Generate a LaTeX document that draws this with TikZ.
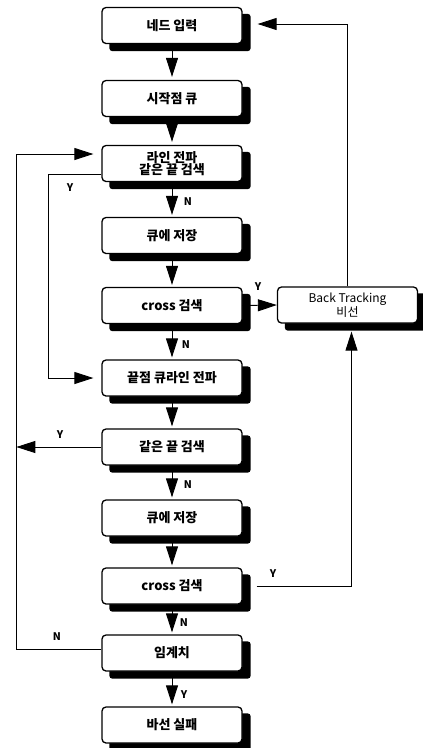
\documentclass[tikz,border=0pt]{standalone}
\usepackage{fontspec}
\setmainfont{Noto Sans CJK KR}
\usetikzlibrary{arrows.meta,backgrounds}
\begin{document}
\begin{tikzpicture}[x=1pt,y=-1pt,
  box/.style={draw,line width=1.3pt,rounded corners=4pt,fill=white,
    minimum width=140pt,minimum height=36pt,align=center,inner sep=1pt,
    font=\fontsize{13}{12.5}\selectfont\bfseries},
  shadowbox/.style={fill=black,rounded corners=3pt},
  conn/.style={line width=0.9pt},
  arr/.style={conn,-{Triangle[width=12pt,length=19pt]}},
  lbl/.style={font=\fontsize{10.5}{11}\selectfont\bfseries,inner sep=0pt}]
\useasboundingbox (0,0) rectangle (423,748);
\node[box] (n1) at (172,25.5) {네드 입력};
\node[box] (n2) at (172,98.5) {시작점 큐};
\node[box] (n3) at (172,163.5) {라인 전파\\같은 끝 검색};
\node[box] (n4) at (172,235.5) {큐에 저장};
\node[box] (n5) at (172,305.5) {cross 검색};
\node[box,font=\fontsize{12}{11}\selectfont] (bt) at (347.5,305) {Back Tracking\\비선};
\node[box] (n6) at (172,378) {끝점 큐라인 전파};
\node[box] (n7) at (172,447) {같은 끝 검색};
\node[box] (n8) at (172,518) {큐에 저장};
\node[box] (n9) at (172,586) {cross 검색};
\node[box] (n10) at (172,653) {임계치};
\node[box] (n11) at (172,725) {바선 실패};
\begin{scope}[on background layer]
\foreach \n in {n1,n2,n3,n4,n5,bt,n6,n7,n8,n9,n10,n11}
  \fill[shadowbox] ([xshift=8pt,yshift=-7pt]\n.north west) rectangle ([xshift=8pt,yshift=-7pt]\n.south east);
\end{scope}
% vertical flow
\draw[arr] (n1.south) -- ([yshift=3pt]n2.north);
\draw[arr] (n2.south) -- ([yshift=3pt]n3.north);
\draw[arr] (n3.south) -- ([yshift=2pt]n4.north);
\draw[arr] (n4.south) -- ([yshift=2pt]n5.north);
\draw[arr] (n5.south) -- ([yshift=2pt]n6.north);
\draw[arr] (n6.south) -- ([yshift=2pt]n7.north);
\draw[arr] (n7.south) -- ([yshift=2pt]n8.north);
\draw[arr] (n8.south) -- ([yshift=2pt]n9.north);
\draw[arr] (n9.south) -- ([yshift=2pt]n10.north);
\draw[arr] (n10.south) -- ([yshift=2pt]n11.north);
% side connectors
\draw[arr] (n5.east) -- (bt.west);
\draw[arr] (bt.north) |- ([xshift=15pt,yshift=1.5pt]n1.east);
\draw[arr] ([xshift=14pt]n9.east) -| ([xshift=4pt,yshift=-8pt]bt.south);
\draw[arr] ([yshift=4pt]n10.west) -| ([xshift=-85pt,yshift=9.5pt]n3.west) -- ([xshift=-8pt,yshift=9.5pt]n3.west);
\draw[arr] (n7.west) -- ([xshift=-85pt]n7.west);
\draw[arr] ([yshift=-10.5pt]n3.west) -| ([xshift=-53pt]n6.west) -- ([xshift=-8pt]n6.west);
% labels
\node[lbl] (l1) at (188,202) {N};
\node[lbl] (l2) at (186,345) {N};
\node[lbl] (l3) at (188,485) {N};
\node[lbl] (l4) at (184,623) {N};
\node[lbl] (l5) at (184,695) {Y};
\node[lbl] (l6) at (258,287) {Y};
\node[lbl] (l7) at (273,574) {Y};
\node[lbl] (l8) at (60,435) {Y};
\node[lbl] (l9) at (70,188) {Y};
\node[lbl] (l10) at (57,637) {N};
\end{tikzpicture}
\end{document}
